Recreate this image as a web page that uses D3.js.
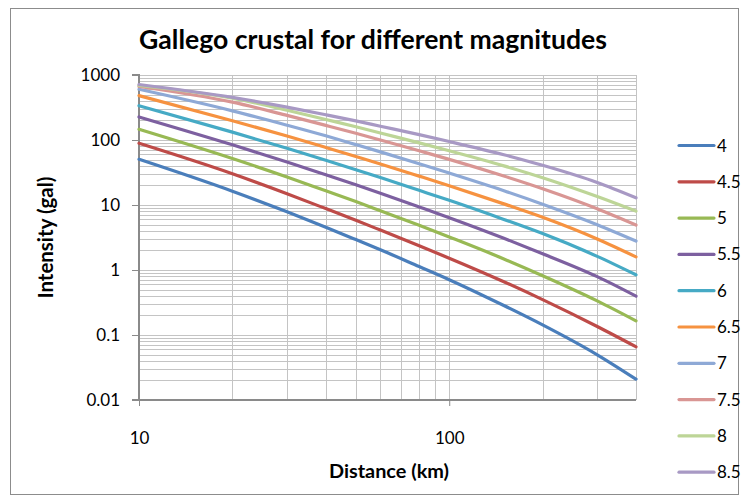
<!DOCTYPE html>
<html>
<head>
<meta charset="utf-8">
<script src="https://cdn.jsdelivr.net/npm/d3@7"></script>
<style>
  body { margin: 0; background: #fff; }
  svg text { font-family: Lato, "Liberation Sans", Arial, sans-serif; fill: #000; }
</style>
</head>
<body>
<svg id="chart" width="749" height="504"></svg>
<script>
// Hypocentral distance (km) at which each curve is sampled
const distances = [10, 20, 30, 40, 50, 60, 80, 100, 150, 200, 300, 400];

// Peak intensity (gal) per magnitude
const mag4  = [50.5, 16.3, 7.85, 4.55, 2.94, 2.05, 1.13, 0.71, 0.284, 0.143, 0.0496, 0.0209];
const mag45 = [88.9, 30.2, 14.9, 8.8, 5.82, 4.11, 2.36, 1.52, 0.66, 0.35, 0.135, 0.0658];
const mag5  = [146, 51.8, 26.9, 16.5, 11.3, 8.17, 4.88, 3.22, 1.48, 0.817, 0.335, 0.165];
const mag55 = [226, 84.3, 45.9, 29.2, 20.5, 15.2, 9.35, 6.38, 3.08, 1.78, 0.79, 0.396];
const mag6  = [337, 132, 74.5, 48.9, 34.9, 26.4, 16.8, 11.8, 6.0, 3.63, 1.62, 0.843];
const mag65 = [481, 198, 115, 76.7, 55.7, 42.8, 27.8, 19.8, 10.4, 6.47, 3.0, 1.59];
const mag7  = [603, 281, 169, 116, 84.9, 65.6, 43.2, 31, 16.6, 10.3, 4.98, 2.79];
const mag75 = [665, 382, 239, 168, 127, 100, 68.2, 50.4, 27.9, 17.8, 8.75, 4.91];
const mag8  = [689, 439, 287, 207, 160, 128, 90.2, 68.2, 40, 26.3, 13.5, 8.04];
const mag85 = [714, 452, 321, 245, 197, 163, 121, 94.8, 59.4, 40.8, 22.2, 12.9];

const seriesNames = ["4", "4.5", "5", "5.5", "6", "6.5", "7", "7.5", "8", "8.5"];
const seriesValues = [mag4, mag45, mag5, mag55, mag6, mag65, mag7, mag75, mag8, mag85];
const seriesColors = ["#4a7ebb", "#be4b48", "#98b954", "#7d60a0", "#46aac5",
                      "#f69240", "#8ea9d6", "#d99694", "#bdd597", "#a899c4"];

const xTickValues = [10, 100];
const yTickValues = [1000, 100, 10, 1, 0.1, 0.01];

const titleText = "Gallego crustal for different magnitudes";
const xTitle = "Distance (km)";
const yTitle = "Intensity (gal)";

const svg = d3.select("#chart");

// chart-area border
svg.append("rect")
  .attr("x", 10.5).attr("y", 8.5).attr("width", 728).attr("height", 486)
  .attr("fill", "#fff").attr("stroke", "#8c8c8c").attr("stroke-width", 1);

const plot = { left: 139, right: 636, top: 75, bottom: 400 };

const x = d3.scaleLog().domain([10, 400]).range([plot.left, plot.right]);
const y = d3.scaleLog().domain([0.01, 1000]).range([plot.bottom, plot.top]);

const grid = svg.append("g").attr("stroke", "#c4c4c4").attr("stroke-width", 1);

// horizontal gridlines: every decade plus 2..9 inside each decade
const yGrid = [];
for (let e = -2; e < 3; e++) {
  for (let k = 1; k < 10; k++) yGrid.push(k * Math.pow(10, e));
}
yGrid.push(1000);
grid.selectAll("line.h").data(yGrid).join("line")
  .attr("x1", plot.left).attr("x2", plot.right)
  .attr("y1", d => Math.round(y(d)) + 0.5).attr("y2", d => Math.round(y(d)) + 0.5);

// vertical gridlines
const xGrid = [20, 30, 40, 50, 60, 70, 80, 90, 100, 200, 300, 400];
grid.selectAll("line.v").data(xGrid).join("line")
  .attr("y1", plot.top).attr("y2", plot.bottom)
  .attr("x1", d => Math.round(x(d)) + 0.5).attr("x2", d => Math.round(x(d)) + 0.5);

// axes
const axisColor = "#8a8a8a";
const yAxis = svg.append("g")
  .attr("transform", `translate(${plot.left},0)`)
  .call(d3.axisLeft(y).tickValues(yTickValues).tickFormat(d3.format("~g")).tickSize(7).tickPadding(12));
const xAxis = svg.append("g")
  .attr("transform", `translate(0,${plot.bottom})`)
  .call(d3.axisBottom(x).tickValues(xTickValues).tickFormat(d3.format("~g")).tickSize(6).tickPadding(26));
[xAxis, yAxis].forEach(g => {
  g.select(".domain").attr("stroke", axisColor).attr("stroke-width", 2);
  g.selectAll(".tick line").attr("stroke", axisColor).attr("stroke-width", 1);
  g.selectAll(".tick text").attr("font-size", 17)
    .attr("font-family", "Lato, Liberation Sans, Arial, sans-serif").attr("fill", "#000");
});
yAxis.select(".domain").attr("d", `M-7,${plot.top}H0V${plot.bottom}H-7`);
xAxis.select(".domain").attr("d", `M${plot.left},0H${plot.right}`);

// curves
const line = d3.line()
  .x(d => x(d[0]))
  .y(d => y(d[1]))
  .curve(d3.curveMonotoneX);

svg.append("g").selectAll("path").data(seriesValues).join("path")
  .attr("d", vals => line(distances.map((dk, i) => [dk, vals[i]])))
  .attr("fill", "none")
  .attr("stroke", (d, i) => seriesColors[i])
  .attr("stroke-width", 3.2)
  .attr("stroke-linejoin", "round")
  .attr("stroke-linecap", "round");

// size a bold text so that it spans the wanted width
function fitText(sel, width, start) {
  sel.attr("font-size", start);
  const w = sel.node().getComputedTextLength();
  if (w > 0) sel.attr("font-size", (start * width / w).toFixed(2));
  return sel;
}

// titles
fitText(svg.append("text")
  .attr("x", 373).attr("y", 49)
  .attr("text-anchor", "middle")
  .attr("font-weight", "bold")
  .text(titleText), 468, 20);

fitText(svg.append("text")
  .attr("x", 389).attr("y", 478)
  .attr("text-anchor", "middle")
  .attr("font-weight", "bold")
  .text(xTitle), 120, 16);

fitText(svg.append("text")
  .attr("transform", `translate(53,${(plot.top + plot.bottom) / 2}) rotate(-90)`)
  .attr("text-anchor", "middle")
  .attr("font-weight", "bold")
  .text(yTitle), 122, 16);

// legend
const legend = svg.append("g").selectAll("g").data(seriesNames).join("g")
  .attr("transform", (d, i) => `translate(679,${145.5 + i * 36.3})`);
legend.append("line")
  .attr("x1", 0).attr("x2", 35)
  .attr("stroke", (d, i) => seriesColors[i])
  .attr("stroke-width", 3.2).attr("stroke-linecap", "round");
legend.append("text")
  .attr("x", 38).attr("y", 6)
  .attr("font-size", 17)
  .text(d => d);
</script>
</body>
</html>
